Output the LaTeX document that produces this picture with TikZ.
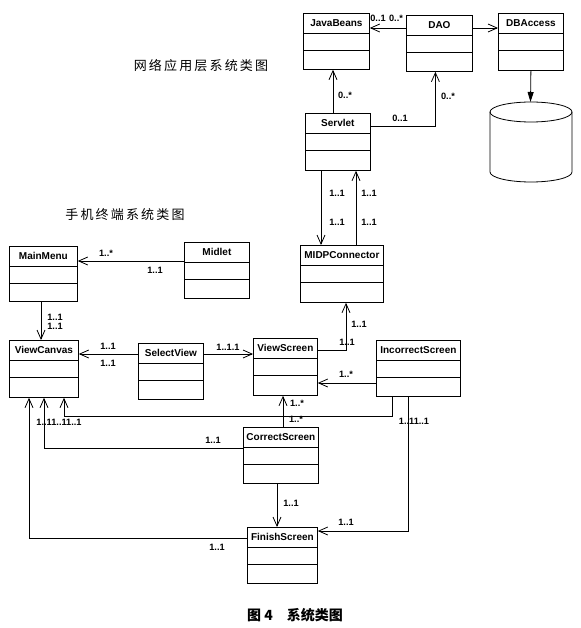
\documentclass[tikz,border=0pt]{standalone}
\usepackage{fontspec}
\setmainfont{Liberation Sans}
\newfontfamily\cjkfont{Noto Sans CJK SC}
\usetikzlibrary{arrows.meta,calc}
\tikzset{
  classbox/.style={draw, line width=0.8pt, rectangle, inner sep=0pt, anchor=north west},
  classname/.style={font=\fontsize{10}{11}\selectfont\bfseries, inner sep=0pt},
  mult/.style={font=\fontsize{9.2}{10}\selectfont\bfseries, inner sep=0pt},
  assoc/.style={line width=0.8pt, -{Straight Barb[length=9pt,width=8pt]}},
  plainline/.style={line width=0.8pt},
  cjktitle/.style={font=\cjkfont\fontsize{13}{14}\selectfont, inner sep=0pt},
}
\newcommand\umlclass[6]{%
  \node[classbox, minimum width=#4pt, minimum height=#5pt] (#1) at (#2,#3) {};
  \node[classname] (#1-name) at ([yshift=-10pt]#1.north) {#6};
  \draw[plainline] ([yshift=-20pt]#1.north west) -- ([yshift=-20pt]#1.north east);
  \draw[plainline] ([yshift=-37pt]#1.north west) -- ([yshift=-37pt]#1.north east);
}
\begin{document}
\begin{tikzpicture}[x=1pt,y=-1pt]
\useasboundingbox (0,0) rectangle (580,628);
\fill[white] (0,0) rectangle (580,628);

% titles
\node[cjktitle] (t1) at (201,66) {网\,络\,应\,用\,层\,系\,统\,类\,图};
\node[cjktitle] (t2) at (125,215) {手\,机\,终\,端\,系\,统\,类\,图};
\node[cjktitle, font=\cjkfont\fontsize{14}{15}\selectfont\bfseries] (cap) at (295,615) {图 \textbf{4}\quad 系统类图};

% classes
\umlclass{jb}{303}{13}{66}{56}{JavaBeans}
\umlclass{dao}{406}{15}{66}{56}{DAO}
\umlclass{dba}{498}{13}{65}{57}{DBAccess}
\umlclass{sv}{305}{113}{65}{57}{Servlet}
\umlclass{midp}{300}{245}{83}{57}{MIDPConnector}
\umlclass{mm}{9}{246}{68}{55}{MainMenu}
\umlclass{mid}{184}{242}{65}{56}{Midlet}
\umlclass{vc}{9}{340}{69}{57}{ViewCanvas}
\umlclass{sel}{138}{343}{65}{56}{SelectView}
\umlclass{vs}{253}{338}{64}{57}{ViewScreen}
\umlclass{inc}{376}{340}{84}{56}{IncorrectScreen}
\umlclass{cs}{243}{427}{75}{56}{CorrectScreen}
\umlclass{fs}{247}{527}{70}{56}{FinishScreen}

% database cylinder
\draw[plainline] (490,112) -- (490,172) arc[start angle=180, end angle=360, x radius=41pt, y radius=10pt] -- (572,112);
\draw[plainline] (531,112) ellipse [x radius=41pt, y radius=10pt];
\coordinate (dbtop) at (530.5,102);
\draw[line width=0.8pt, -{Triangle[length=10pt,width=6pt]}] (dba.south) -- (dbtop);

% web layer connectors
\coordinate (djb) at ([yshift=-13pt]dao.north west);
\draw[assoc] (djb) -- (djb -| jb.east);
\draw[assoc] (djb -| dao.east) -- (djb -| dba.west);
\coordinate (s1) at ([xshift=28pt]sv.north west);
\draw[assoc] (s1) -- (s1 |- jb.south);
\coordinate (s2) at ([yshift=-13pt]sv.north east);
\coordinate (s3) at ([xshift=-4pt]dao.south);
\draw[assoc] (s2) -| (s3);
\coordinate (m1) at ([xshift=16pt]sv.south west);
\draw[assoc] (m1) -- (m1 |- midp.north);
\coordinate (m2) at ([xshift=56pt]midp.north west);
\draw[assoc] (m2) -- (m2 |- sv.south);

% terminal connectors
\coordinate (ml) at ([yshift=-19pt]mid.north west);
\draw[assoc] (ml) -- (ml -| mm.east);
\coordinate (mv) at ([xshift=32pt]mm.south west);
\draw[assoc] (mv) -- (mv |- vc.north);
\coordinate (sl) at ([yshift=-11pt]sel.north west);
\draw[assoc] (sl) -- (sl -| vc.east);
\draw[assoc] (sl -| sel.east) -- (sl -| vs.west);
\coordinate (ic) at ([yshift=-43pt]inc.north west);
\draw[assoc] (ic) -- (ic -| vs.east);
\coordinate (vm) at ([yshift=-12pt]vs.north east);
\coordinate (vm2) at ([xshift=46pt]midp.south west);
\draw[assoc] (vm) -| (vm2);
\coordinate (cv) at ([xshift=40pt]cs.north west);
\draw[assoc] (cv) -- (cv |- vs.south);
\coordinate (iv) at ([xshift=16pt]inc.south west);
\coordinate (iv2) at ([xshift=55pt]vc.south west);
\draw[assoc] (iv) -- ++(0,20) -| (iv2);
\coordinate (cc) at ([yshift=-21pt]cs.north west);
\coordinate (cc2) at ([xshift=35pt]vc.south west);
\draw[assoc] (cc) -| (cc2);
\coordinate (cf) at ([xshift=34pt]cs.south west);
\draw[assoc] (cf) -- (cf |- fs.north);
\coordinate (fc) at ([yshift=-11pt]fs.north west);
\coordinate (fc2) at ([xshift=20pt]vc.south west);
\draw[assoc] (fc) -| (fc2);
\coordinate (if) at ([xshift=32pt]inc.south west);
\coordinate (if2) at ([yshift=-4pt]fs.north east);
\draw[assoc] (if) |- (if2);

% multiplicities
\node[mult] (l1) at (378,18.5) {0..1};
\node[mult] (l2) at (396,18.5) {0..*};
\node[mult] (l3) at (345,95) {0..*};
\node[mult] (l4) at (400,118) {0..1};
\node[mult] (l5) at (448,96) {0..*};
\node[mult] (l6) at (337,193) {1..1};
\node[mult] (l7) at (337,222) {1..1};
\node[mult] (l8) at (369,193) {1..1};
\node[mult] (l9) at (369,222) {1..1};
\node[mult] (l10) at (359,324) {1..1};
\node[mult] (l11) at (347,342) {1..1};
\node[mult] (l12) at (346,374) {1..*};
\node[mult] (l13) at (297,403) {1..*};
\node[mult] (l14) at (296,419) {1..*};
\node[mult] (l15) at (414,421) {1..11..1};
\node[mult] (l16) at (346,522) {1..1};
\node[mult] (l17) at (291,503) {1..1};
\node[mult] (l18) at (59,422) {1..11..11..1};
\node[mult] (l19) at (213,440) {1..1};
\node[mult] (l20) at (217,547) {1..1};
\node[mult] (l21) at (106,253) {1..*};
\node[mult] (l22) at (155,270) {1..1};
\node[mult] (l23) at (55,317) {1..1};
\node[mult] (l24) at (55,326) {1..1};
\node[mult] (l25) at (108,346) {1..1};
\node[mult] (l26) at (108,363) {1..1};
\node[mult] (l27) at (228,347) {1..1.1};
\end{tikzpicture}
\end{document}
